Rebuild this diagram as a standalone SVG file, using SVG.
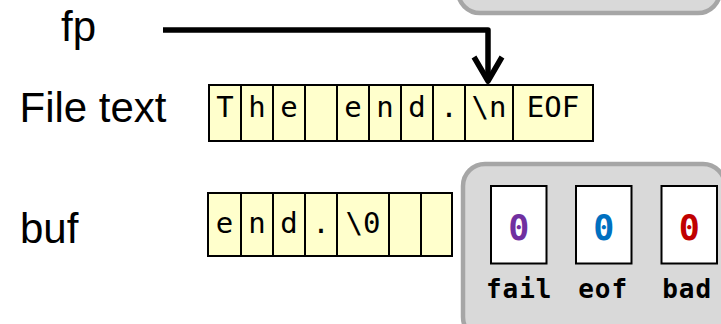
<svg xmlns="http://www.w3.org/2000/svg" width="721" height="324" viewBox="0 0 721 324">
  <style>
    .label { font-family: "Liberation Sans", Arial, sans-serif; font-size: 42px; fill: #000; }
    .cell { fill: #ffffcc; stroke: #000; stroke-width: 2; }
    .ch { font-family: "DejaVu Sans Mono", "Liberation Mono", monospace; font-size: 29px; fill: #000; text-anchor: middle; }
    .panel { fill: #d9d9d9; stroke: #a6a6a6; stroke-width: 4.5; }
    .flag { fill: #fff; stroke: #000; stroke-width: 2; }
    .bit { font-family: "DejaVu Sans Mono", "Liberation Mono", monospace; font-size: 35px; font-weight: bold; text-anchor: middle; }
    .flagname { font-family: "DejaVu Sans Mono", "Liberation Mono", monospace; font-size: 26px; font-weight: bold; letter-spacing: 1px; text-anchor: middle; fill: #000; }
    .ptr { fill: none; stroke: #000; stroke-width: 5.5; stroke-linejoin: round; }
  </style>

  <!-- stream state panel continuing above the view -->
  <g id="upper-panel">
    <rect class="panel" x="458" y="-40" width="262" height="53" rx="22"/>
  </g>

  <!-- labels -->
  <g id="label-fp"><text class="label" x="61" y="41">fp</text></g>
  <g id="label-file"><text class="label" x="19.5" y="122">File text</text></g>
  <g id="label-buf"><text class="label" x="20" y="243">buf</text></g>

  <!-- characters of the file -->
  <g id="file-text">
    <rect class="cell" x="209" y="85" width="32" height="56"/>
    <rect class="cell" x="241" y="85" width="32" height="56"/>
    <rect class="cell" x="273" y="85" width="32" height="56"/>
    <rect class="cell" x="305" y="85" width="32" height="56"/>
    <rect class="cell" x="337" y="85" width="32" height="56"/>
    <rect class="cell" x="369" y="85" width="32" height="56"/>
    <rect class="cell" x="401" y="85" width="32" height="56"/>
    <rect class="cell" x="433" y="85" width="32" height="56"/>
    <rect class="cell" x="465" y="85" width="48" height="56"/>
    <rect class="cell" x="513" y="85" width="80" height="56"/>
    <text class="ch" x="225" y="117">T</text>
    <text class="ch" x="257" y="117">h</text>
    <text class="ch" x="289" y="117">e</text>
    <text class="ch" x="353" y="117">e</text>
    <text class="ch" x="385" y="117">n</text>
    <text class="ch" x="417" y="117">d</text>
    <text class="ch" x="449" y="117">.</text>
    <text class="ch" x="489" y="117">\n</text>
    <text class="ch" x="553" y="117">EOF</text>
  </g>

  <!-- buffer contents -->
  <g id="buf">
    <rect class="cell" x="208" y="193" width="33" height="63"/>
    <rect class="cell" x="241" y="193" width="32" height="63"/>
    <rect class="cell" x="273" y="193" width="32" height="63"/>
    <rect class="cell" x="305" y="193" width="32" height="63"/>
    <rect class="cell" x="337" y="193" width="52" height="63"/>
    <rect class="cell" x="389" y="193" width="32" height="63"/>
    <rect class="cell" x="421" y="193" width="31" height="63"/>
    <text class="ch" x="224.5" y="233">e</text>
    <text class="ch" x="257" y="233">n</text>
    <text class="ch" x="289" y="233">d</text>
    <text class="ch" x="321" y="233">.</text>
    <text class="ch" x="363" y="233">\0</text>
  </g>

  <!-- stream state flags -->
  <g id="state-panel">
    <rect class="panel" x="463" y="164" width="262" height="175" rx="22"/>
  </g>
  <g id="flag-fail">
    <rect class="flag" x="491" y="186" width="55.5" height="77.5"/>
    <text class="bit" x="518.7" y="240" fill="#7030a0">0</text>
    <text class="flagname" x="519.2" y="298">fail</text>
  </g>
  <g id="flag-eof">
    <rect class="flag" x="576" y="186" width="55.5" height="77.5"/>
    <text class="bit" x="603.7" y="240" fill="#0070c0">0</text>
    <text class="flagname" x="603.2" y="298">eof</text>
  </g>
  <g id="flag-bad">
    <rect class="flag" x="661.5" y="186" width="55.5" height="77.5"/>
    <text class="bit" x="689.2" y="240" fill="#c00000">0</text>
    <text class="flagname" x="687.2" y="298">bad</text>
  </g>

  <!-- file position pointer -->
  <g id="connectors">
    <path class="ptr" d="M163 30 H488 V80"/>
    <path class="ptr" d="M474 57 L488 81 L502 57"/>
  </g>
</svg>
